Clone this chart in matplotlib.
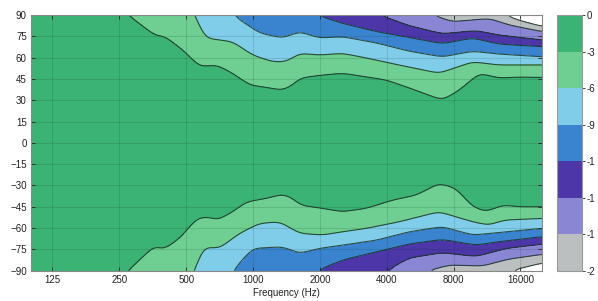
import numpy as np
import matplotlib
matplotlib.use("Agg")
import matplotlib.pyplot as plt
from matplotlib.colors import ListedColormap, BoundaryNorm

plt.rcParams['font.family'] = ['Liberation Sans', 'DejaVu Sans']

# ---- data: contour boundaries (frequency Hz, angle deg) ----
levels = [-21, -18, -15, -12, -9, -6, -3, 0]
cbar_labels = ['-2', '-1', '-1', '-1', '-9', '-6', '-3', '0']
xtick_vals = [125, 250, 500, 1000, 2000, 4000, 8000, 16000]
xtick_labels = ['125', '250', '500', '1000', '2000', '4000', '8000', '16000']
ytick_vals = list(range(-90, 91, 15))

u3_f = [200, 273, 320, 368, 392, 483, 575, 686, 809, 965, 1150, 1360, 1510, 1620, 2000, 2527, 3985, 5054, 7118, 8510, 10440, 12800, 15800, 20000]
u3_a = [120, 90, 82, 74.7, 76, 65.4, 53.6, 54.8, 49, 40.7, 39, 37, 40.7, 45.6, 47.5, 49, 44.2, 38.6, 30.1, 37.2, 49, 45.6, 46.3, 46]
u6_f = [450, 546, 606, 809, 995, 1220, 1410, 1620, 1990, 2530, 3240, 4540, 6880, 9750, 12800, 20000]
u6_a = [120, 90, 73.8, 71.2, 61.8, 57.1, 57.1, 63, 61.8, 63, 59.7, 54.8, 49, 57, 54.8, 54.8]
u9_f = [700, 809, 1070, 1360, 1620, 1990, 2530, 3600, 5050, 7120, 9750, 12800, 20000]
u9_a = [120, 90, 77.3, 73.8, 78.3, 73.8, 74.7, 70.3, 64.5, 60.5, 64.5, 62.5, 60.6]
u12_f = [1700, 1930, 2530, 3600, 5050, 7120, 9750, 12800, 20000]
u12_a = [120, 90, 84.1, 78.3, 74.2, 69.8, 73.8, 69.5, 67.7]
u15_f = [3200, 3700, 5050, 7120, 10100, 12800, 20000]
u15_a = [120, 90, 82.5, 76.8, 79, 75.9, 72.4]
u18_f = [5500, 6400, 7900, 11600, 14200, 20000]
u18_a = [120, 90, 85.3, 87.5, 83, 78.3]
u21_f = [12000, 13500, 16000, 20000]
u21_a = [120, 90, 86, 82]

l3_f = [200, 273, 332, 361, 392, 467, 557, 620, 694, 809, 935, 1150, 1360, 1510, 1620, 2050, 2530, 3240, 4250, 5440, 6880, 8200, 9750, 11200, 13300, 15800, 20000]
l3_a = [-120, -90, -77.8, -72, -75.5, -67.3, -53.2, -52, -54.4, -48.5, -41.5, -39.1, -36.1, -38.9, -43.8, -46.1, -48.5, -46.1, -40.3, -36.8, -28.5, -32, -45, -48.5, -43.8, -45, -45]
l6_f = [450, 546, 594, 705, 869, 1070, 1320, 1620, 2050, 2530, 3240, 4540, 6880, 9750, 11500, 13500, 20000]
l6_a = [-120, -90, -73.2, -74.3, -63.7, -56.7, -55.6, -63.7, -64.9, -62.6, -60.2, -55.6, -48.5, -55.6, -57.9, -54.4, -53.2]
l9_f = [700, 809, 995, 1360, 1620, 1990, 2530, 3600, 5050, 7120, 9750, 11800, 20000]
l9_a = [-120, -90, -74.3, -73.2, -77.8, -74.3, -72, -68.5, -62.6, -59, -64.9, -63.7, -60.2]
l12_f = [1700, 1930, 2530, 3600, 5050, 7120, 10100, 12800, 20000]
l12_a = [-120, -90, -82.5, -76.7, -71.2, -68, -72, -69.6, -66.1]
l15_f = [3500, 3980, 5050, 7120, 10100, 13800, 20000]
l15_a = [-120, -90, -81, -77.3, -80, -74.3, -71.3]
l18_f = [5200, 6100, 7700, 10800, 14000, 20000]
l18_a = [-120, -90, -86, -86.7, -82, -78.5]
l21_f = [12500, 14500, 20000]
l21_a = [-120, -90, -84.6]

upper = [(u3_f, u3_a), (u6_f, u6_a), (u9_f, u9_a), (u12_f, u12_a),
         (u15_f, u15_a), (u18_f, u18_a), (u21_f, u21_a)]
lower = [(l3_f, l3_a), (l6_f, l6_a), (l9_f, l9_a), (l12_f, l12_a),
         (l15_f, l15_a), (l18_f, l18_a), (l21_f, l21_a)]

colors = ['#bcbfbf', '#8a86d4', '#4c36a8', '#3a84cf', '#80cdea', '#6fcf92', '#3bb374']

# ---- build field ----
freq = np.logspace(2, np.log10(20000), 900)
ang = np.linspace(-90, 90, 901)
F, A = np.meshgrid(freq, ang)
lf = np.log10(freq)
k = np.arange(-24, 25)
kern = np.exp(-0.5 * (k / 8.0) ** 2)
kern /= kern.sum()


def boundary(fk, ak):
    b = np.interp(lf, np.log10(fk), ak)
    bp = np.pad(b, 24, mode='edge')
    return np.convolve(bp, kern, mode='valid')[None, :]


w = 1.0
S = np.zeros_like(A)
for fk, ak in upper:
    S += np.clip((A - boundary(fk, ak)) / w + 0.5, 0, 1)
for fk, ak in lower:
    S += np.clip((boundary(fk, ak) - A) / w + 0.5, 0, 1)
Z = -1.5 - 3 * S

fig = plt.figure(figsize=(5.98, 3.01), dpi=100)
ax = fig.add_axes([0.0518, 0.1007, 0.8545, 0.8495])
cmap = ListedColormap(colors)
norm = BoundaryNorm(levels, cmap.N)
cf = ax.contourf(F, A, Z, levels=levels, cmap=cmap, norm=norm)
ax.contour(F, A, Z, levels=levels[:-1], colors='#1b3326', linewidths=0.8,
           linestyles='solid', alpha=0.85)

ax.set_xscale('log')
ax.set_xlim(100, 20000)
ax.set_ylim(-90, 90)
ax.set_xticks(xtick_vals)
ax.set_xticklabels(xtick_labels)
ax.xaxis.set_minor_locator(matplotlib.ticker.NullLocator())
ax.set_yticks(ytick_vals)
ax.tick_params(direction='in', length=3, width=0.6, top=True, right=True,
               labelsize=7, colors='#222222', pad=3)
ax.grid(True, color='#0d3a22', alpha=0.15, linewidth=0.8)
for s in ax.spines.values():
    s.set_color('#888888')
    s.set_linewidth(0.8)
ax.set_xlabel('Frequency (Hz)', fontsize=7, color='#222222', labelpad=2)

cax = fig.add_axes([0.9314, 0.1007, 0.0418, 0.8495])
cb = fig.colorbar(cf, cax=cax, ticks=levels)
cb.ax.set_yticklabels(cbar_labels)
cb.ax.tick_params(labelsize=7, length=2, width=0.6, pad=1, colors='#222222')
cb.outline.set_edgecolor('#999999')
cb.outline.set_linewidth(0.8)

fig.savefig('out.png', dpi=100)
